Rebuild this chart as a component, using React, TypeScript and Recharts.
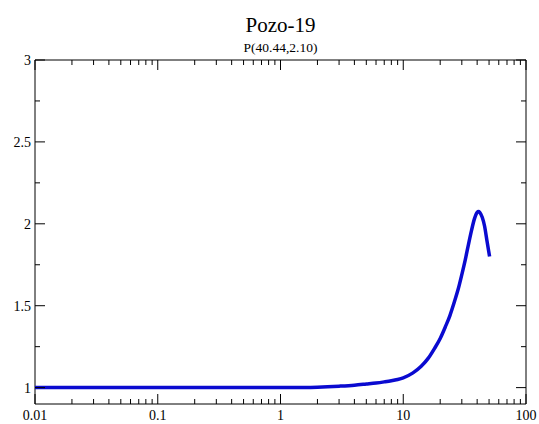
import { LineChart, Line, XAxis, YAxis, ReferenceArea } from "recharts";

const FONT = "Liberation Serif, DejaVu Serif, serif";

const W = 539;
const H = 424;
const MARGIN = { top: 60, right: 13, bottom: 0, left: 0 };
const PLOT_TOP = MARGIN.top;
const PLOT_RIGHT = W - MARGIN.right;

const title = "Pozo-19";
const subtitle = "P(40.44,2.10)";

// time (log) and pressure derivative
const xValues = [
  0.01, 0.1, 1, 1.5, 2, 3, 4, 5, 6, 7, 8, 9, 10, 12, 14, 16, 18, 20, 22, 24, 26, 28, 30,
  32, 34, 36, 38, 40, 41, 42, 44, 46, 48, 50.5,
];
const yValues = [
  1.0, 1.0, 1.0, 1.001, 1.003, 1.009, 1.015, 1.022, 1.028, 1.035, 1.042, 1.05, 1.06, 1.09,
  1.13, 1.18, 1.24, 1.3, 1.37, 1.44, 1.52, 1.6, 1.69, 1.78, 1.875, 1.96, 2.03, 2.07, 2.075,
  2.07, 2.04, 1.985, 1.9, 1.8,
];

const xMajor = [0.01, 0.1, 1, 10, 100];
const xTicks = [
  0.01, 0.02, 0.03, 0.04, 0.05, 0.06, 0.07, 0.08, 0.09,
  0.1, 0.2, 0.3, 0.4, 0.5, 0.6, 0.7, 0.8, 0.9,
  1, 2, 3, 4, 5, 6, 7, 8, 9,
  10, 20, 30, 40, 50, 60, 70, 80, 90, 100,
];
const yMajor = [1, 1.5, 2, 2.5, 3];
const yTicks = [1, 1.25, 1.5, 1.75, 2, 2.25, 2.5, 2.75, 3];

const data = xValues.map((x, i) => ({ x, y: yValues[i] }));

const XTick = (props: any) => {
  const { x, y, payload } = props;
  const major = xMajor.includes(payload.value);
  const len = major ? 10 : 5;
  return (
    <g>
      <line x1={x} x2={x} y1={y} y2={y - len} stroke="#000" strokeWidth={1} />
      <line x1={x} x2={x} y1={PLOT_TOP} y2={PLOT_TOP + len} stroke="#000" strokeWidth={1} />
      {major && (
        <text x={x} y={y + 16} textAnchor="middle" style={{ fontFamily: FONT }} fontSize={14} fill="#000">
          {String(payload.value)}
        </text>
      )}
    </g>
  );
};

const YTick = (props: any) => {
  const { x, y, payload } = props;
  const major = yMajor.includes(payload.value);
  const len = major ? 10 : 5;
  return (
    <g>
      <line x1={x} x2={x + len} y1={y} y2={y} stroke="#000" strokeWidth={1} />
      <line x1={PLOT_RIGHT} x2={PLOT_RIGHT - len} y1={y} y2={y} stroke="#000" strokeWidth={1} />
      {major && (
        <text x={x - 4} y={y + 5} textAnchor="end" style={{ fontFamily: FONT }} fontSize={14} fill="#000">
          {String(payload.value)}
        </text>
      )}
    </g>
  );
};

export default function App() {
  return (
    <div style={{ position: "absolute", left: 0, top: 0, width: W, height: H, background: "#fff" }}>
      <div
        style={{
          position: "absolute",
          left: 0,
          top: 14,
          width: 561,
          textAlign: "center",
          fontFamily: FONT,
          fontSize: 21,
          lineHeight: "22px",
          color: "#000",
        }}
      >
        {title}
      </div>
      <div
        style={{
          position: "absolute",
          left: 0,
          top: 40,
          width: 561,
          textAlign: "center",
          fontFamily: FONT,
          fontSize: 13.5,
          lineHeight: "16px",
          color: "#000",
        }}
      >
        {subtitle}
      </div>
      <LineChart width={W} height={H} data={data} margin={MARGIN}>
        <XAxis
          dataKey="x"
          type="number"
          scale="log"
          domain={[0.01, 100]}
          allowDataOverflow
          ticks={xTicks}
          interval={0}
          tick={<XTick />}
          tickLine={false}
          axisLine={false}
          tickSize={0}
          tickMargin={0}
          height={20}
        />
        <YAxis
          type="number"
          domain={[0.9, 3]}
          allowDataOverflow
          ticks={yTicks}
          interval={0}
          tick={<YTick />}
          tickLine={false}
          axisLine={false}
          tickSize={0}
          tickMargin={0}
          width={35}
        />
        <ReferenceArea x1={0.01} x2={100} y1={0.9} y2={3} fill="none" stroke="#000" strokeWidth={1} />
        <Line
          type="monotone"
          dataKey="y"
          stroke="#0a0ad0"
          strokeWidth={3.5}
          dot={false}
          isAnimationActive={false}
        />
      </LineChart>
    </div>
  );
}
